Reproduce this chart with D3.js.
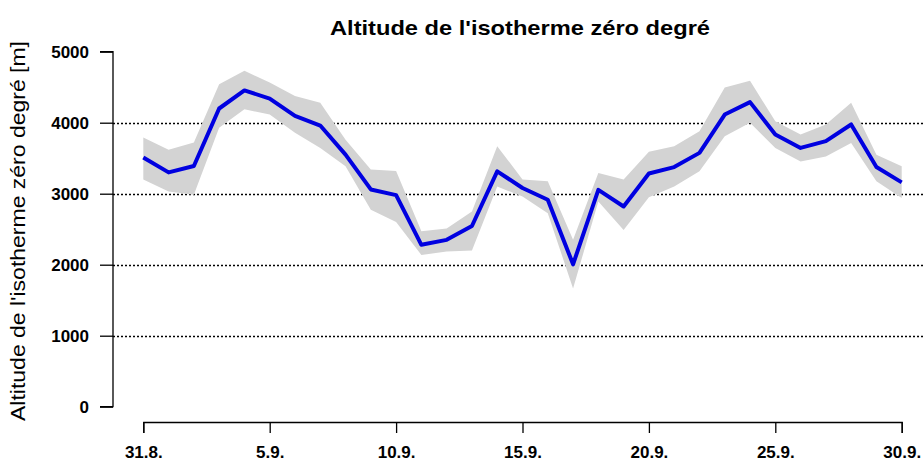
<!DOCTYPE html>
<html>
<head>
<meta charset="utf-8">
<script src="https://cdn.jsdelivr.net/npm/d3@7"></script>
<style>
  html, body { margin: 0; padding: 0; background: #fff; }
  svg { display: block; }
  text { font-family: "Liberation Sans", Arial, sans-serif; fill: #000; }
</style>
</head>
<body>
<svg id="chart" width="924" height="466"></svg>
<script>
// ---- data ----
const dates = ["31.8.","1.9.","2.9.","3.9.","4.9.","5.9.","6.9.","7.9.","8.9.","9.9.","10.9.",
  "11.9.","12.9.","13.9.","14.9.","15.9.","16.9.","17.9.","18.9.","19.9.","20.9.",
  "21.9.","22.9.","23.9.","24.9.","25.9.","26.9.","27.9.","28.9.","29.9.","30.9."];
const meanAlt = [3510, 3300, 3390, 4200, 4455, 4340, 4095, 3960, 3550, 3060, 2980,
  2280, 2350, 2545, 3315, 3080, 2915, 2005, 3055, 2820, 3285,
  3375, 3575, 4115, 4290, 3835, 3645, 3740, 3975, 3375, 3160];
const upperAlt = [3790, 3620, 3720, 4540, 4730, 4565, 4375, 4280, 3760, 3340, 3320,
  2470, 2510, 2750, 3670, 3200, 3175, 2350, 3290, 3200, 3590,
  3670, 3880, 4495, 4590, 4020, 3835, 3975, 4280, 3550, 3385];
const lowerAlt = [3200, 3030, 2985, 3930, 4190, 4115, 3860, 3645, 3385, 2775, 2600,
  2135, 2185, 2200, 3100, 2960, 2725, 1665, 2890, 2490, 2950,
  3100, 3315, 3810, 4000, 3645, 3455, 3525, 3715, 3175, 2940];
const yTicks = [0, 1000, 2000, 3000, 4000, 5000];
const gridValues = [1000, 2000, 3000, 4000];
const xTickIdx = [0, 5, 10, 15, 20, 25, 30];
const titleText = "Altitude de l'isotherme zéro degré";
const yTitleText = "Altitude de l'isotherme zéro degré [m]";

// ---- scales ----
const svg = d3.select("#chart");
const x = d3.scaleLinear().domain([0, dates.length - 1]).range([143.3, 901.7]);
const y = d3.scaleLinear().domain([0, 5000]).range([406.7, 51.7]);

const idx = d3.range(dates.length);

// gridlines
svg.append("g").selectAll("line").data(gridValues).join("line")
  .attr("x1", 113).attr("x2", 924)
  .attr("y1", d => Math.round(y(d)) + 0.5).attr("y2", d => Math.round(y(d)) + 0.5)
  .attr("stroke", "#000").attr("stroke-width", 1.3).attr("stroke-dasharray", "2,2");

// band
const area = d3.area().x(i => x(i)).y0(i => y(lowerAlt[i])).y1(i => y(upperAlt[i]));
svg.append("path").datum(idx).attr("d", area).attr("fill", "#d3d3d3");

// line
const line = d3.line().x(i => x(i)).y(i => y(meanAlt[i]));
svg.append("path").datum(idx).attr("d", line)
  .attr("fill", "none").attr("stroke", "#0000e0").attr("stroke-width", 4)
  .attr("stroke-linejoin", "round").attr("stroke-linecap", "butt");

// y axis
const yAxis = d3.axisLeft(y).tickValues(yTicks).tickSize(13).tickPadding(11).tickFormat(d3.format("d"));
const gy = svg.append("g").attr("transform", "translate(113,0)").call(yAxis);
gy.select(".domain").attr("stroke", "#000").attr("stroke-width", 1.3).attr("d", `M-13,${y(5000)}H0V${y(0)}H-13`);
gy.selectAll(".tick line").attr("stroke", "#000").attr("stroke-width", 1.3);
gy.selectAll(".tick text").attr("font-size", "17px").attr("font-weight", "bold")
  .attr("font-family", "Liberation Sans, Arial, sans-serif").attr("fill", "#000");

// x axis
const xAxis = d3.axisBottom(x).tickValues(xTickIdx).tickSize(11).tickPadding(13).tickFormat(i => dates[i]);
const gx = svg.append("g").attr("transform", "translate(0,422)").call(xAxis);
gx.select(".domain").attr("stroke", "#000").attr("stroke-width", 1.3);
gx.selectAll(".tick line").attr("stroke", "#000").attr("stroke-width", 1.3);
gx.selectAll(".tick text").attr("font-size", "17px").attr("font-weight", "bold")
  .attr("font-family", "Liberation Sans, Arial, sans-serif").attr("fill", "#000");

// title
svg.append("text").attr("x", 520).attr("y", 35).attr("text-anchor", "middle")
  .attr("font-size", "21px").attr("font-weight", "bold")
  .attr("textLength", 380).attr("lengthAdjust", "spacingAndGlyphs").text(titleText);

// y title
svg.append("text").attr("transform", "translate(25,231) rotate(-90)").attr("text-anchor", "middle")
  .attr("font-size", "20px")
  .attr("textLength", 380).attr("lengthAdjust", "spacingAndGlyphs").text(yTitleText);
</script>
</body>
</html>
